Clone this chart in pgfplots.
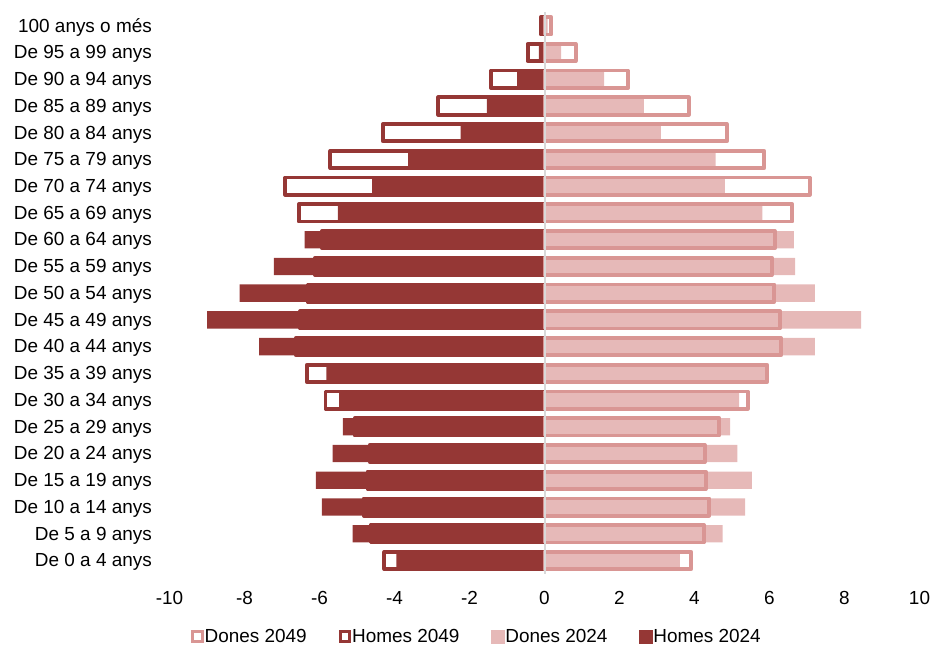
\documentclass[border=0pt]{standalone}
\usepackage{fontspec}
\setmainfont{Liberation Sans}
\usepackage{pgfplots}
\pgfplotsset{compat=1.18}
\definecolor{homes}{HTML}{953735}
\definecolor{dones}{HTML}{E6B9B8}
\definecolor{dones49}{HTML}{D99694}
\definecolor{axisgray}{HTML}{D9D9D9}
\begin{document}
\begin{tikzpicture}
\useasboundingbox (0,0) rectangle (930bp,646bp);
\begin{axis}[
  at={(169.5bp,72.1bp)}, anchor=south west,
  scale only axis, width=750bp, height=561.5bp,
  xmin=-10, xmax=10, ymin=-0.5, ymax=20.5,
  xtick={-10,-8,...,10}, xticklabels={-10,-8,-6,-4,-2,0,2,4,6,8,10},
  ytick={0,...,20},
  yticklabels={De 0 a 4 anys, De 5 a 9 anys, De 10 a 14 anys, De 15 a 19 anys, De 20 a 24 anys, De 25 a 29 anys, De 30 a 34 anys, De 35 a 39 anys, De 40 a 44 anys, De 45 a 49 anys, De 50 a 54 anys, De 55 a 59 anys, De 60 a 64 anys, De 65 a 69 anys, De 70 a 74 anys, De 75 a 79 anys, De 80 a 84 anys, De 85 a 89 anys, De 90 a 94 anys, De 95 a 99 anys, 100 anys o més},
  axis line style={draw=none}, major tick length=0pt,
  tick label style={font=\fontsize{19}{23}\selectfont, inner sep=0pt},
  xticklabel style={anchor=base, yshift=-31bp},
  yticklabel style={anchor=base east, xshift=-17.5bp, yshift=-6.3bp},
  xbar, bar shift=0pt, bar width=17.3bp,
  legend columns=4, legend cell align=left,
  legend style={draw=none, fill=none, inner sep=0pt, outer sep=0pt,
    font=\fontsize{19}{23}\selectfont,
    nodes={inner sep=1bp},
    /tikz/every odd column/.append style={column sep=0bp},
    /tikz/every even column/.append style={column sep=31bp},
    at={(0.4092,-0.1118)}, anchor=center},
]
\addplot[fill=homes, draw=none, forget plot] coordinates {
(-3.95,0) (-5.12,1) (-5.94,2) (-6.10,3) (-5.65,4) (-5.38,5) (-5.48,6) (-5.82,7) (-7.61,8) (-9.00,9) (-8.13,10) (-7.22,11) (-6.40,12) (-5.51,13) (-4.60,14) (-3.64,15) (-2.24,16) (-1.54,17) (-0.73,18) (-0.15,19) (-0.05,20)};
\addplot[fill=dones, draw=none, forget plot] coordinates {
(3.61,0) (4.75,1) (5.35,2) (5.53,3) (5.14,4) (4.95,5) (5.19,6) (5.90,7) (7.21,8) (8.44,9) (7.21,10) (6.68,11) (6.65,12) (5.81,13) (4.81,14) (4.56,15) (3.10,16) (2.65,17) (1.59,18) (0.44,19) (0.08,20)};
\addplot[fill=none, draw=homes, line width=3.8bp, line join=round, forget plot] coordinates {
(-4.27,0) (-4.64,1) (-4.82,2) (-4.72,3) (-4.66,4) (-5.06,5) (-5.84,6) (-6.34,7) (-6.63,8) (-6.51,9) (-6.32,10) (-6.12,11) (-5.93,12) (-6.55,13) (-6.91,14) (-5.71,15) (-4.31,16) (-2.83,17) (-1.43,18) (-0.45,19) (-0.10,20)};
\addplot[fill=none, draw=dones49, line width=3.8bp, line join=round, forget plot] coordinates {
(3.91,0) (4.25,1) (4.39,2) (4.30,3) (4.27,4) (4.66,5) (5.42,6) (5.94,7) (6.31,8) (6.28,9) (6.13,10) (6.06,11) (6.14,12) (6.61,13) (7.07,14) (5.86,15) (4.86,16) (3.85,17) (2.23,18) (0.83,19) (0.18,20)};
\draw[axisgray, line width=2bp] (axis cs:0,-0.5) -- (axis cs:0,20.5);
\addlegendimage{legend image code/.code={\draw[dones49, line width=3bp, fill=white] (1.5bp,-4.75bp) rectangle (11bp,4.75bp);}}
\addlegendentry{Dones 2049}
\addlegendimage{legend image code/.code={\draw[homes, line width=3bp, fill=white] (1.5bp,-4.75bp) rectangle (11bp,4.75bp);}}
\addlegendentry{Homes 2049}
\addlegendimage{legend image code/.code={\fill[dones] (0bp,-6.25bp) rectangle (12.5bp,6.25bp);}}
\addlegendentry{Dones 2024}
\addlegendimage{legend image code/.code={\fill[homes] (0bp,-6.25bp) rectangle (12.5bp,6.25bp);}}
\addlegendentry{Homes 2024}
\end{axis}
\end{tikzpicture}
\end{document}
